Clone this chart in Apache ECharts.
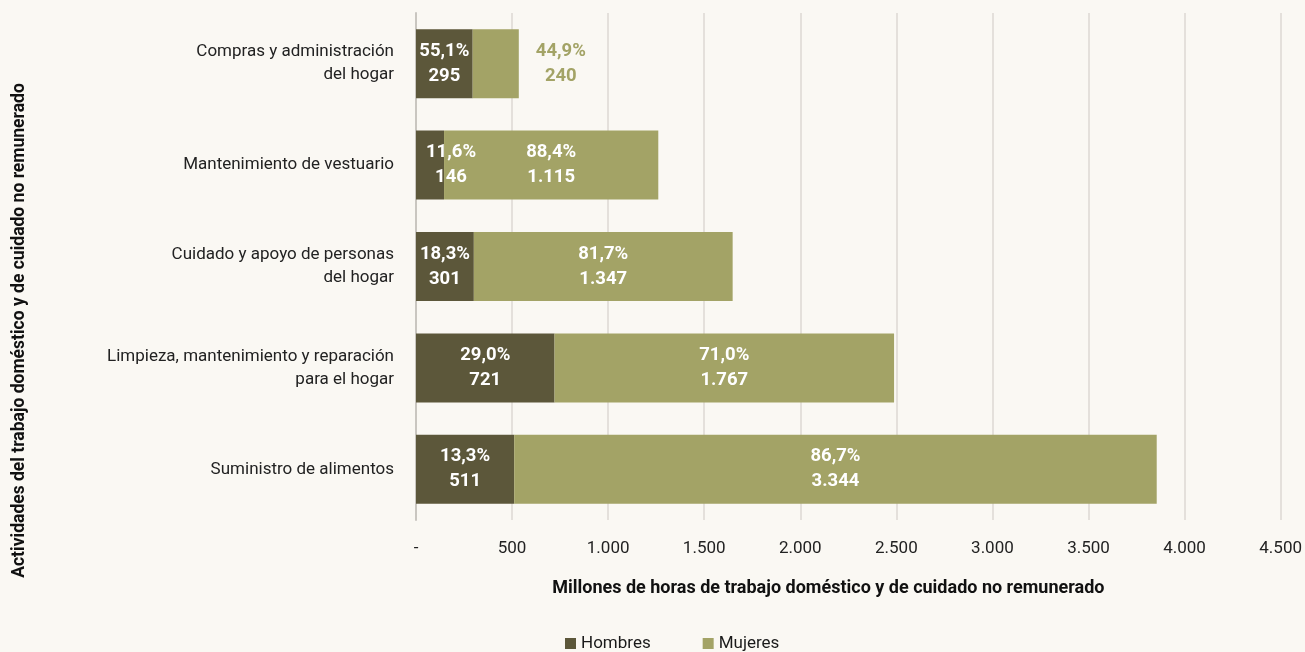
<!DOCTYPE html>
<html>
<head>
<meta charset="utf-8">
<script src="https://cdn.jsdelivr.net/npm/echarts@6/dist/echarts.min.js"></script>
<style>
  html, body { margin: 0; padding: 0; background: #faf8f3; }
  #chart { width: 1305px; height: 652px; }
</style>
</head>
<body>
<div id="chart"></div>
<script>
// categorías (de arriba a abajo)
var categorias = [
    'Compras y administración\ndel hogar',
    'Mantenimiento de vestuario',
    'Cuidado y apoyo de personas\ndel hogar',
    'Limpieza, mantenimiento y reparación\npara el hogar',
    'Suministro de alimentos'
];
var hombres = [295, 146, 301, 721, 511];
var mujeres = [240, 1115, 1347, 1767, 3344];

var fuente = '"Liberation Sans Narrow", "Roboto", sans-serif';

// formato 1.234
function miles(v) {
    return String(Math.round(v)).replace(/\B(?=(\d{3})+(?!\d))/g, '.');
}
function pct(a, b) {
    return (a / (a + b) * 100).toFixed(1).replace('.', ',') + '%';
}

(function () {
    var chart = echarts.init(document.getElementById('chart'));

    var option = {
        backgroundColor: '#faf8f3',
        textStyle: {fontFamily: fuente},
        grid: {left: 416, right: 24, top: 13, bottom: 132},
        legend: {
            top: 630,
            left: 560,
            itemWidth: 11,
            itemHeight: 11,
            itemGap: 52,
            icon: 'rect',
            textStyle: {fontSize: 17, color: '#1a1a1a', fontFamily: fuente},
            data: ['Hombres', 'Mujeres']
        },
        xAxis: {
            type: 'value',
            min: 0,
            max: 4500,
            interval: 500,
            name: 'Millones de horas de trabajo doméstico y de cuidado no remunerado',
            nameLocation: 'middle',
            nameGap: 59,
            nameTextStyle: {
                fontSize: 18, fontWeight: 'bold', color: '#111',
                fontFamily: fuente, padding: [0, 40, 0, 0]
            },
            axisLine: {show: false},
            axisTick: {show: false},
            axisLabel: {
                fontSize: 17, color: '#222', margin: 20,
                formatter: function (v) { return v === 0 ? '-' : miles(v); }
            },
            splitLine: {lineStyle: {color: '#dcd9d3', width: 1.5}}
        },
        yAxis: {
            type: 'category',
            inverse: true,
            data: categorias,
            name: 'Actividades del trabajo doméstico y de cuidado no remunerado',
            nameLocation: 'middle',
            nameGap: 387,
            nameRotate: 90,
            nameTextStyle: {
                fontSize: 17.5, fontWeight: 'bold', color: '#111',
                fontFamily: fuente, padding: [0, 128, 0, 0]
            },
            axisLine: {lineStyle: {color: '#c9c6c0', width: 2}},
            axisTick: {show: false},
            axisLabel: {
                fontSize: 17, color: '#222', margin: 22, align: 'right',
                lineHeight: 23
            }
        },
        series: [
            {
                name: 'Hombres',
                type: 'bar',
                stack: 'total',
                barCategoryGap: '32%',
                itemStyle: {color: '#5c573a'},
                label: {
                    show: true,
                    position: 'inside',
                    color: '#fff',
                    fontWeight: 'bold',
                    fontSize: 18.5,
                    lineHeight: 25,
                    fontFamily: fuente,
                    formatter: function (p) {
                        var i = p.dataIndex;
                        return pct(hombres[i], mujeres[i]) + '\n' + miles(hombres[i]);
                    }
                },
                data: hombres.map(function (v, i) {
                    var d = {value: v};
                    if (i === 1) d.label = {offset: [21, 0]};
                    return d;
                })
            },
            {
                name: 'Mujeres',
                type: 'bar',
                stack: 'total',
                itemStyle: {color: '#a3a366'},
                label: {
                    show: true,
                    position: 'inside',
                    color: '#fff',
                    fontWeight: 'bold',
                    fontSize: 18.5,
                    lineHeight: 25,
                    fontFamily: fuente,
                    formatter: function (p) {
                        var i = p.dataIndex;
                        return pct(mujeres[i], hombres[i]) + '\n' + miles(mujeres[i]);
                    }
                },
                data: mujeres.map(function (v, i) {
                    var d = {value: v};
                    // la barra pequeña lleva la etiqueta afuera
                    if (i === 0) d.label = {position: 'right', distance: 22, color: '#a3a366', align: 'center', offset: [20, 0]};
                    return d;
                })
            }
        ]
    };

    chart.setOption(option);
})();
</script>
</body>
</html>
